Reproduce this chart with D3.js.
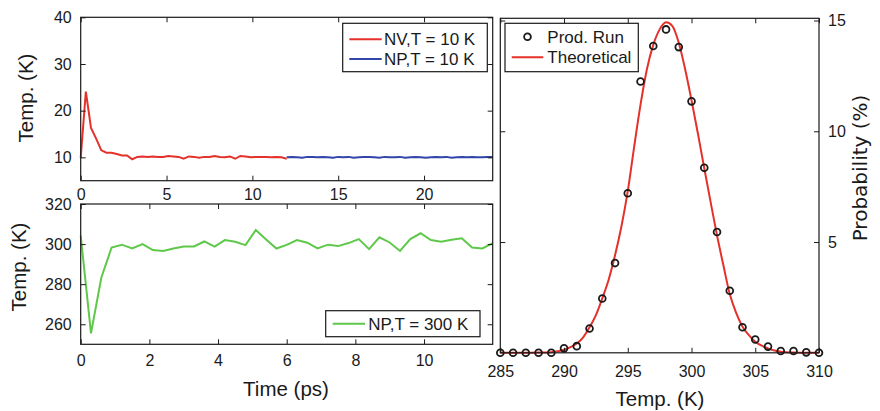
<!DOCTYPE html>
<html><head><meta charset="utf-8">
<script src="https://cdn.jsdelivr.net/npm/d3@7"></script>
<style>
body{margin:0;background:#fff;}
svg text{font-family:"Liberation Sans",Arial,sans-serif;fill:#1a1a1a;}
</style></head>
<body><svg id="c" width="880" height="411"></svg>
<script>
// ---------- data ----------
const nvTime = [0,0.3,0.6,0.9,1.2,1.5,1.8,2.1,2.4,2.7,3.0,3.3,3.6,3.9,4.2,4.5,4.8,5.1,5.4,5.7,6.0,6.3,6.6,6.9,7.2,7.5,7.8,8.1,8.4,8.7,9.0,9.3,9.6,9.9,10.2,10.5,10.8,11.1,11.4,11.7,12.0];
const nvTemp = [9.9,24.1,16.3,14.0,11.5,11.0,11.0,10.7,10.4,10.4,9.6,10.1,10.2,10.1,10.2,10.1,10.1,10.3,10.2,10.1,9.7,10.2,10.1,9.9,10.1,10.1,10.3,10.1,10.0,10.2,9.7,10.3,10.2,10.0,10.1,10.1,10.1,10.0,10.1,10.0,9.7];
const np10Time = [12.0,12.3,12.6,12.9,13.2,13.5,13.8,14.1,14.4,14.7,15.0,15.3,15.6,15.9,16.2,16.5,16.8,17.1,17.4,17.7,18.0,18.3,18.6,18.9,19.2,19.5,19.8,20.1,20.4,20.7,21.0,21.3,21.6,21.9,22.2,22.5,22.8,23.1,23.4,23.7,24.0];
const np10Temp = [10.0,10.1,10.0,9.9,10.1,10.1,10.0,10.1,10.0,9.9,10.1,10.0,10.1,9.9,10.0,10.1,10.1,10.0,9.9,10.1,10.0,10.0,10.1,9.9,10.0,10.1,10.0,9.9,10.0,10.1,10.0,10.1,9.9,10.0,10.1,10.0,10.1,10.0,10.0,10.1,10.1];
const np300Time = [0,0.3,0.6,0.9,1.2,1.5,1.8,2.1,2.4,2.7,3.0,3.3,3.6,3.9,4.2,4.5,4.8,5.1,5.4,5.7,6.0,6.3,6.6,6.9,7.2,7.5,7.8,8.1,8.4,8.7,9.0,9.3,9.6,9.9,10.2,10.5,10.8,11.1,11.4,11.7,12.0];
const np300Temp = [304.2,255.5,283.2,298.3,299.7,297.8,300.0,297.0,296.6,297.8,298.8,298.8,301.3,298.7,302.0,301.2,299.5,307.0,302.3,297.8,299.6,302.0,300.7,297.8,299.7,299.0,300.5,302.5,297.5,303.4,300.8,296.6,302.5,305.4,302.0,301.2,302.2,302.9,298.3,297.8,300.5];
const runTemps = [285,286,287,288,289,290,291,292,293,294,295,296,297,298,299,300,301,302,303,304,305,306,307,308,309,310];
const runProb  = [0,0,0,0,0,0.2,0.3,1.1,2.45,4.05,7.2,12.25,13.85,14.6,13.8,11.35,8.35,5.45,2.8,1.15,0.6,0.28,0.08,0.08,0.02,0];
const theoTemps = [285,286,287,288,289,289.5,290,290.5,291,291.5,292,292.5,293,293.5,294,294.5,295,295.5,296,296.5,297,297.5,298,298.5,299,299.5,300,300.5,301,301.5,302,302.5,303,303.5,304,304.5,305,305.5,306,306.5,307,308,309,310];
const theoProb  = [0,0,0,0.01,0.03,0.07,0.14,0.26,0.42,0.7,1.15,1.7,2.46,3.3,4.4,5.7,7.3,9.3,11.2,12.8,13.9,14.6,14.92,14.75,14.0,12.8,11.4,9.9,8.33,6.8,5.3,3.95,2.65,1.8,1.18,0.8,0.5,0.32,0.2,0.1,0.05,0.01,0,0];
const topXTicks = [0,5,10,15,20];
const topYTicks = [10,20,30,40];
const botXTicks = [0,2,4,6,8,10];
const botYTicks = [260,280,300,320];
const rXTicks = [285,290,295,300,305,310];
const rYTicks = [5,10,15];

// ---------- styles ----------
const RED = "#e4312b", BLUE = "#3146a8", GREEN = "#5ec84a", INK = "#1a1a1a";
const svg = d3.select("#c");

function frameAxes(x, y, xt, yt, opts){
  const [x0,x1] = x.range(), [y0,y1] = y.range();
  const g = svg.append("g");
  const ax = (gen, tx, ty, labels, pad) => {
    const a = g.append("g").attr("transform",`translate(${tx},${ty})`)
      .call(gen.tickSize(-5).tickSizeOuter(0).tickPadding(pad||8).tickFormat(labels?d3.format("d"):""));
    a.select(".domain").remove();
    a.selectAll("line").attr("stroke",INK).attr("stroke-width",1);
    a.selectAll("text").attr("font-size",16).attr("fill",INK);
    return a;
  };
  ax(d3.axisBottom(x).tickValues(xt), 0, y0, true, opts.xpad);
  ax(d3.axisTop(x).tickValues(xt), 0, y1, false);
  ax(d3.axisLeft(y).tickValues(yt), x0, 0, !opts.rightLabels, opts.ypad);
  ax(d3.axisRight(y).tickValues(yt), x1, 0, !!opts.rightLabels, opts.ypad);
  g.append("rect").attr("x",x0).attr("y",y1).attr("width",x1-x0).attr("height",y0-y1)
    .attr("fill","none").attr("stroke",INK).attr("stroke-width",1.2);
}

// ---------- top-left panel ----------
const xT = d3.scaleLinear().domain([0,24]).range([80.7,492.7]);
const yT = d3.scaleLinear().domain([5,40]).range([180.7,17.3]);
const lineT = d3.line().x((d,i)=>d[0]).y(d=>d[1]);
svg.append("path").datum(np10Time.map((t,i)=>[xT(t),yT(np10Temp[i])]))
  .attr("d",lineT).attr("fill","none").attr("stroke",BLUE).attr("stroke-width",2);
svg.append("path").datum(nvTime.map((t,i)=>[xT(t),yT(nvTemp[i])]))
  .attr("d",lineT).attr("fill","none").attr("stroke",RED).attr("stroke-width",2);
frameAxes(xT,yT,topXTicks,topYTicks,{xpad:7.5,ypad:9});

// ---------- bottom-left panel ----------
const xB = d3.scaleLinear().domain([0,12]).range([80.7,492.7]);
const yB = d3.scaleLinear().domain([250,320]).range([344.3,204]);
svg.append("path").datum(np300Time.map((t,i)=>[xB(t),yB(np300Temp[i])]))
  .attr("d",lineT).attr("fill","none").attr("stroke",GREEN).attr("stroke-width",2);
frameAxes(xB,yB,botXTicks,botYTicks,{xpad:10,ypad:9});

// ---------- right panel ----------
const xR = d3.scaleLinear().domain([285,310]).range([500.3,819]);
const yR = d3.scaleLinear().domain([0,15.1]).range([352.8,18.3]);
svg.append("path").datum(theoTemps.map((t,i)=>[xR(t),yR(theoProb[i])]))
  .attr("d",d3.line().curve(d3.curveMonotoneX)).attr("fill","none").attr("stroke",RED).attr("stroke-width",2);
svg.append("g").selectAll("circle").data(runTemps).join("circle")
  .attr("cx",d=>xR(d)).attr("cy",(d,i)=>yR(runProb[i])).attr("r",3.4)
  .attr("fill","none").attr("stroke",INK).attr("stroke-width",1.8);
frameAxes(xR,yR,rXTicks,rYTicks,{xpad:12.5,ypad:9,rightLabels:true});

// ---------- axis titles ----------
const title = (txt,x,y,rot,size,fam) => {
  const t = svg.append("text").attr("text-anchor","middle").attr("font-size",size||20.5)
    .attr("transform",`translate(${x},${y})${rot?" rotate(-90)":""}`).text(txt);
  if(fam) t.style("font-family",fam);
};
title("Temp. (K)",33,98,true);
title("Temp. (K)",26,267,true);
title("Time (ps)",286,396);
title("Temp. (K)",660,406);
title("Probability (%)",867,168,true,20,"'DejaVu Sans'");

// ---------- legends ----------
function legend(x,y,w,h,rows){
  const g = svg.append("g");
  g.append("rect").attr("x",x).attr("y",y).attr("width",w).attr("height",h)
    .attr("fill","#fff").attr("stroke",INK).attr("stroke-width",1.2);
  rows.forEach(r=>{
    if(r.type==="line") g.append("line").attr("x1",r.lx0).attr("x2",r.lx1).attr("y1",r.y).attr("y2",r.y)
      .attr("stroke",r.color).attr("stroke-width",2);
    else g.append("circle").attr("cx",(r.lx0+r.lx1)/2).attr("cy",r.y).attr("r",3.4)
      .attr("fill","none").attr("stroke",INK).attr("stroke-width",1.8);
    g.append("text").attr("x",r.tx).attr("y",r.y).attr("dy","0.36em").attr("font-size",17).text(r.label);
  });
}
legend(342.7,23.3,144.6,48.4,[
  {type:"line",color:RED,lx0:349.3,lx1:381.7,y:39.3,tx:384,label:"NV,T = 10 K"},
  {type:"line",color:BLUE,lx0:349.3,lx1:381.7,y:59,tx:384,label:"NP,T = 10 K"}]);
legend(325.7,310.7,154.3,26,[
  {type:"line",color:GREEN,lx0:332.7,lx1:365,y:323.8,tx:368.3,label:"NP,T = 300 K"}]);
legend(505,23.3,133.3,48.4,[
  {type:"marker",lx0:511.7,lx1:543.3,y:36.7,tx:547.3,label:"Prod. Run"},
  {type:"line",color:RED,lx0:511.7,lx1:543.3,y:57.3,tx:547.3,label:"Theoretical"}]);
</script></body></html>
